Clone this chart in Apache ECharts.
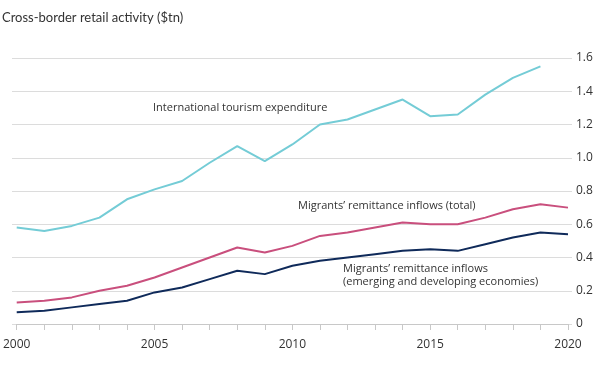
<!DOCTYPE html>
<html><head><meta charset="utf-8">
<script src="https://cdn.jsdelivr.net/npm/echarts@6/dist/echarts.min.js"></script>
<style>html,body{margin:0;padding:0;background:#fff}#c{width:600px;height:372px}</style>
</head><body><div id="c"></div>
<script>
const years = [2000,2001,2002,2003,2004,2005,2006,2007,2008,2009,2010,2011,2012,2013,2014,2015,2016,2017,2018,2019,2020];
const tourism = [0.58,0.56,0.59,0.64,0.75,0.81,0.86,0.97,1.07,0.98,1.08,1.20,1.23,1.29,1.35,1.25,1.26,1.38,1.48,1.55,null];
const remitTotal = [0.13,0.14,0.16,0.20,0.23,0.28,0.34,0.40,0.46,0.43,0.47,0.53,0.55,0.58,0.61,0.60,0.60,0.64,0.69,0.72,0.70];
const remitEmde = [0.07,0.08,0.10,0.12,0.14,0.19,0.22,0.27,0.32,0.30,0.35,0.38,0.40,0.42,0.44,0.45,0.44,0.48,0.52,0.55,0.54];
const yTicks = [0,0.2,0.4,0.6,0.8,1.0,1.2,1.4,1.6];

const chart = echarts.init(document.getElementById('c'));
const font = '"Open Sans", "Noto Sans", sans-serif';
const pair = arr => years.map((y,i)=>[y,arr[i]]);
chart.setOption({
  backgroundColor:'#fff',
  animation:false,
  textStyle:{fontFamily:font},
  grid:[
    {left:12,right:28,top:58,bottom:48},
    {left:16,right:32,top:58,bottom:48}
  ],
  xAxis:[
    {gridIndex:0,type:'value',min:0,max:1,show:false},
    {gridIndex:1,type:'value',min:2000,max:2020,interval:1,
     axisLine:{show:true,lineStyle:{color:'#c8c8c8',width:1}},
     axisTick:{show:true,length:6,lineStyle:{color:'#c8c8c8'}},
     splitLine:{show:false},
     axisLabel:{color:'#333',fontSize:12,margin:15,fontFamily:font,
       formatter:v=> (v%5===0? String(v):'')}}
  ],
  yAxis:[
    {gridIndex:0,type:'value',min:0,max:1.6,interval:0.2,position:'right',
     axisLine:{show:false},axisTick:{show:false},
     splitLine:{lineStyle:{color:'#dcdcdc',width:1}},
     axisLabel:{color:'#333',fontSize:12,margin:4,fontFamily:font,
       formatter:v=>{const t=yTicks.find(x=>Math.abs(x-v)<1e-6);return t===0?'0':t.toFixed(1);}}},
    {gridIndex:1,type:'value',min:0,max:1.6,interval:0.2,show:false,splitLine:{show:false}}
  ],
  series:[
    {type:'line',xAxisIndex:1,yAxisIndex:1,data:pair(tourism),showSymbol:false,lineStyle:{color:'#74ccd6',width:2},itemStyle:{color:'#74ccd6'}},
    {type:'line',xAxisIndex:1,yAxisIndex:1,data:pair(remitTotal),showSymbol:false,lineStyle:{color:'#c94f7d',width:2},itemStyle:{color:'#c94f7d'}},
    {type:'line',xAxisIndex:1,yAxisIndex:1,data:pair(remitEmde),showSymbol:false,lineStyle:{color:'#0f2a5a',width:2},itemStyle:{color:'#0f2a5a'}}
  ],
  graphic:[
    {type:'text',left:2,top:11,style:{text:'Cross-border retail activity ($tn)',fill:'#333',font:'13px Lato, "Noto Sans", sans-serif'}},
    {type:'text',left:153,top:102,style:{text:'International tourism expenditure',fill:'#333',font:'11px '+font}},
    {type:'text',left:298,top:200,style:{text:'Migrants\u2019 remittance inflows (total)',fill:'#333',font:'11px '+font}},
    {type:'text',left:343,top:262,style:{text:'Migrants\u2019 remittance inflows\n(emerging and developing economies)',fill:'#333',font:'11px '+font,lineHeight:13}}
  ]
});
</script></body></html>
